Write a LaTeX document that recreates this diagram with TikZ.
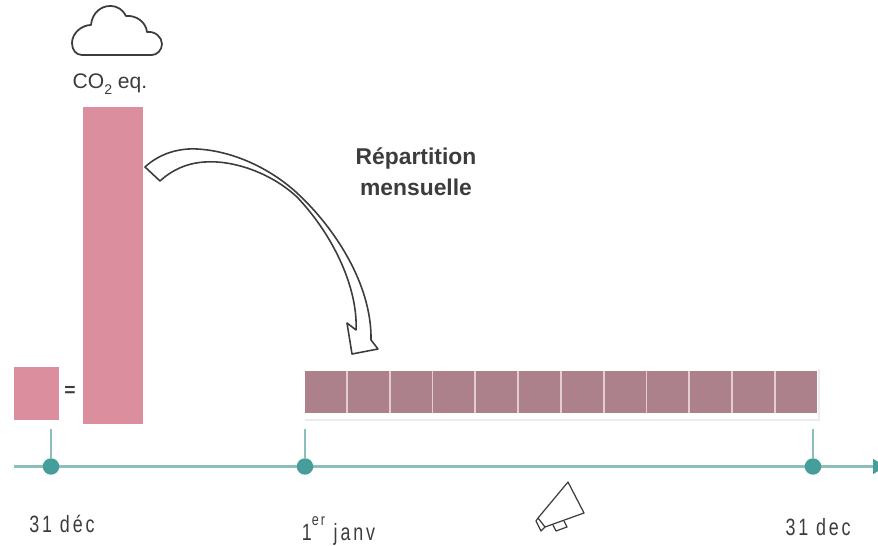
\documentclass[tikz,border=0pt]{standalone}
\usepackage{fontspec}
\setmainfont{Liberation Sans}
\newfontfamily\datefont[FakeStretch=0.76,LetterSpace=12]{Liberation Sans}
\usetikzlibrary{arrows.meta, positioning}
\definecolor{barpink}{HTML}{DB8F9E}
\definecolor{cellmauve}{HTML}{AD818C}
\definecolor{cellgap}{HTML}{E3CDD2}
\definecolor{axisteal}{HTML}{8CBFB8}
\definecolor{dotteal}{HTML}{459E99}
\definecolor{inkgrey}{HTML}{3C3C3C}

\begin{document}
\begin{tikzpicture}[
        x=0.02cm, y=-0.02cm,
        bar/.style={rectangle, fill=barpink, inner sep=0pt},
        cell/.style={rectangle, fill=cellmauve, inner sep=0pt, minimum width=0.82cm, minimum height=0.84cm},
        dot/.style={circle, fill=dotteal, inner sep=0pt, minimum size=0.33cm},
        stem/.style={draw=axisteal, line width=1.3pt},
        label/.style={text=inkgrey, inner sep=0pt},
        datelabel/.style={label, font=\datefont\fontsize{13.4}{15}\selectfont},
        outline/.style={draw=inkgrey, line width=0.9pt, line join=round}
    ]
        \useasboundingbox (0,0) rectangle (878,546);
        \clip (0,0) rectangle (878,546);

        % bars on the left
        \node[bar, minimum width=1.22cm, minimum height=6.34cm] (tall) at (113,265.5) {};
        \node[bar, minimum width=0.9cm, minimum height=1.06cm] (small) at (36.5,393.5) {};
        \node[label, font=\fontsize{11}{13}\bfseries\selectfont] (equal) at (70,391) {=};
        \node[label, font=\fontsize{12}{14}\selectfont] (co2) at (110,84) {CO\raisebox{-3.5pt}{\fontsize{8}{9}\selectfont 2} eq.};

        % cloud
        \draw[outline, line width=1pt] (82,55) .. controls (76,55) and (72,50) .. (72,43)
            .. controls (72,33) and (82,25) .. (91,25)
            .. controls (92,13) and (101,6) .. (110,6)
            .. controls (118,6) and (123,10) .. (126,16)
            .. controls (136,15) and (146,22) .. (147,32)
            .. controls (155,31) and (162,37) .. (162,44)
            .. controls (162,50) and (157,55) .. (152,55) -- cycle;

        \node[font=\fontsize{13}{17.5}\bfseries\selectfont, text=inkgrey, align=center] (title) at (416,172) {Répartition\\mensuelle};

        % curved block arrow
        \draw[outline, fill=white] (145,167) .. controls (160,153) and (180,148) .. (197,149)
            .. controls (235,151) and (272,170) .. (297,193)
            .. controls (335,228) and (372,285) .. (371,340)
            -- (378,349) -- (352,354) -- (347,323) -- (356,330)
            .. controls (358,290) and (335,237) .. (297,197)
            .. controls (270,172) and (232,160) .. (205,162)
            .. controls (187,163) and (172,170) .. (160,181) -- cycle;

        % twelve months
        \coordinate (framecorner) at (819,420);
        \draw[draw=black!8, line width=1.5pt] (305,420) -- (framecorner) -- (819,369);
        \fill[cellgap] (305,371) rectangle (816,413);
        \foreach \m in {0,...,11} {
            \node[cell] (month\m) at ({325.5+\m*42.8},392) {};
        }

        % time axis
        \coordinate (axisstart) at (14,466.5);
        \coordinate (axisend) at (889,466.5);
        \draw[stem, -{Latex[length=9pt,width=9pt,color=dotteal]}] (axisstart) -- (axisend);
        \node[dot] (dec) at (51,466.5) {};
        \node[dot] (jan) at (305,466.5) {};
        \node[dot] (decend) at (813,466.5) {};
        \coordinate (stemdec) at (51,429);
        \coordinate (stemjan) at (305,429);
        \coordinate (stemend) at (813,429);
        \draw[stem] (dec) -- (stemdec);
        \draw[stem] (jan) -- (stemjan);
        \draw[stem] (decend) -- (stemend);

        \node[datelabel] (labdec) at (62,524) {31 déc};
        \node[datelabel] (labjan) at (338.5,531) {1\raisebox{3pt}{\textsuperscript{er}} janv};
        \node[datelabel] (labend) at (818,527) {31 dec};

        % megaphone
        \draw[outline, line width=0.7pt] (568,482) -- (584,513) -- (545,527) -- (538,518) -- cycle;
        \draw[outline, line width=0.7pt] (538,518) -- (536,521) -- (541,531) -- (545,527);
        \draw[outline, line width=0.7pt] (553,525) -- (556,531) -- (567,527) -- (564,521);
    \end{tikzpicture}
\end{document}
